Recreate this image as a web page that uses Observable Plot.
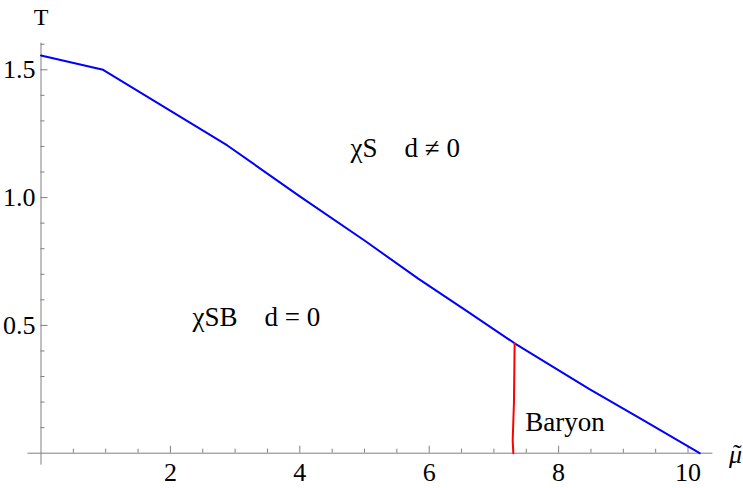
<!DOCTYPE html>
<html>
<head>
<meta charset="utf-8">
<script src="https://cdn.jsdelivr.net/npm/d3@7"></script>
<script src="https://cdn.jsdelivr.net/npm/@observablehq/plot@0.6"></script>
<style>
  html, body { margin: 0; padding: 0; background: #fff; }
  #chart svg { display: block; }
</style>
</head>
<body>
<div id="chart"></div>
<script>
// Phase boundary (blue)
const boundaryMu = [0, 0.96, 2.88, 4.0, 5.0, 5.83, 6.6, 7.32, 8.47, 9.3, 10.18];
const boundaryT  = [1.556, 1.50, 1.204, 1.005, 0.832, 0.683, 0.553, 0.430, 0.252, 0.130, 0.0];
// Baryon line (red)
const baryonMu = [7.32, 7.31, 7.29, 7.30];
const baryonT  = [0.430, 0.20, 0.05, 0.0];
// Ticks
const xMajorTicks = [2, 4, 6, 8, 10];
const xMinorTicks = [0.5, 1, 1.5, 2.5, 3, 3.5, 4.5, 5, 5.5, 6.5, 7, 7.5, 8.5, 9, 9.5];
const yMajorTicks = [0.5, 1.0, 1.5];
const yMinorTicks = [0.1, 0.2, 0.3, 0.4, 0.6, 0.7, 0.8, 0.9, 1.1, 1.2, 1.3, 1.4, 1.6];
// Region labels
const labelText = ["χS\u2003d ≠ 0", "χSB\u2003d = 0", "Baryon"];
const labelMu   = [5.63, 3.33, 8.10];
const labelT    = [1.194, 0.533, 0.120];
// Axis labels (μ with a tilde accent drawn above it)
const xLabel = "μ";
const xLabelAccent = "˜";
const yLabel = "T";

const boundary = boundaryMu.map((m, i) => ({mu: m, T: boundaryT[i]}));
const baryon = baryonMu.map((m, i) => ({mu: m, T: baryonT[i]}));
const labels = labelText.map((t, i) => ({text: t, mu: labelMu[i], T: labelT[i]}));

const W = 743, H = 488;
const mL = 40.5, mR = 29.6, mT = 42.7, mB = 35.3;
const plotW = W - mL - mR, plotH = H - mT - mB;
const axisColor = "#808080";
const serif = "Liberation Serif";

const chart = Plot.plot({
  width: W,
  height: H,
  marginLeft: mL,
  marginRight: mR,
  marginTop: mT,
  marginBottom: mB,
  x: {domain: [0, 10.4]},
  y: {domain: [0, 1.604]},
  style: {fontFamily: serif, background: "#fff", color: "#000"},
  marks: [
    // axis lines
    Plot.ruleY([0], {stroke: axisColor, strokeWidth: 1, insetLeft: -13, insetRight: 1}),
    Plot.ruleX([0], {stroke: axisColor, strokeWidth: 1, insetBottom: -12}),
    // x ticks (inward)
    Plot.ruleX(xMajorTicks, {stroke: axisColor, insetTop: plotH - 7}),
    Plot.ruleX(xMinorTicks, {stroke: axisColor, insetTop: plotH - 4}),
    // y ticks (inward)
    Plot.ruleY(yMajorTicks, {stroke: axisColor, insetRight: plotW - 7}),
    Plot.ruleY(yMinorTicks, {stroke: axisColor, insetRight: plotW - 4}),
    // tick labels
    Plot.axisX(xMajorTicks, {anchor: "bottom", tickSize: 0, tickPadding: 9, fontSize: 26, label: null, fontFamily: serif, tickFormat: d => String(d)}),
    Plot.axisY(yMajorTicks, {anchor: "left", tickSize: 0, tickPadding: 5.5, fontSize: 26, label: null, fontFamily: serif, tickFormat: d => d.toFixed(1)}),
    // curves
    Plot.line(boundary, {x: "mu", y: "T", stroke: "#0000ff", strokeWidth: 2}),
    Plot.line(baryon, {x: "mu", y: "T", stroke: "#ff0000", strokeWidth: 2}),
    // region labels
    Plot.text(labels, {x: "mu", y: "T", text: "text", fontSize: 27, fill: "#000", fontFamily: serif}),
    // axis labels
    Plot.text([yLabel], {frameAnchor: "top-left", lineAnchor: "middle", dx: 0, dy: -25.4, text: d => d, fontSize: 24, textAnchor: "middle", fontFamily: serif}),
    Plot.text([xLabel], {frameAnchor: "bottom-right", lineAnchor: "middle", dx: 21.6, dy: 1, text: d => d, fontSize: 26, fontStyle: "italic", textAnchor: "middle", fontFamily: serif}),
    Plot.text([xLabelAccent], {frameAnchor: "bottom-right", lineAnchor: "middle", dx: 23.5, dy: 0, text: d => d, fontSize: 26, textAnchor: "middle", fontFamily: serif})
  ]
});
d3.select(chart).selectAll("text").attr("font-family", serif).style("font-family", serif);
document.getElementById("chart").appendChild(chart);
</script>
</body>
</html>
